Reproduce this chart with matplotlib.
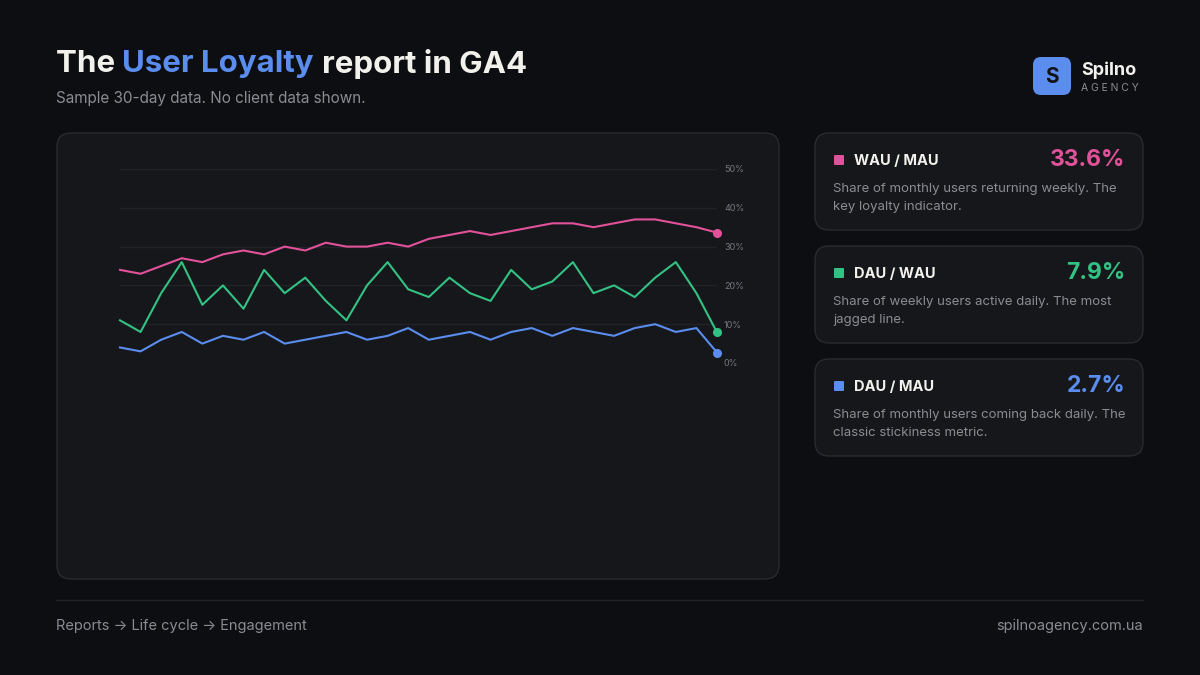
import matplotlib.pyplot as plt
from matplotlib.patches import FancyBboxPatch

# sample 30-day ratios (%)
days = list(range(1, 31))
wau_mau = [24, 23, 25, 27, 26, 28, 29, 28, 30, 29, 31, 30, 30, 31, 30,
           32, 33, 34, 33, 34, 35, 36, 36, 35, 36, 37, 37, 36, 35, 33.6]
dau_wau = [11, 8, 18, 26, 15, 20, 14, 24, 18, 22, 16, 11, 20, 26, 19,
           17, 22, 18, 16, 24, 19, 21, 26, 18, 20, 17, 22, 26, 18, 7.9]
dau_mau = [4, 3, 6, 8, 5, 7, 6, 8, 5, 6, 7, 8, 6, 7, 9,
           6, 7, 8, 6, 8, 9, 7, 9, 8, 7, 9, 10, 8, 9, 2.7]
y_ticks = [0, 10, 20, 30, 40, 50]

card_titles = ["WAU / MAU", "DAU / WAU", "DAU / MAU"]
card_values = ["33.6%", "7.9%", "2.7%"]
card_texts = [
    "Share of monthly users returning weekly. The\nkey loyalty indicator.",
    "Share of weekly users active daily. The most\njagged line.",
    "Share of monthly users coming back daily. The\nclassic stickiness metric.",
]

BG = "#0d0e11"
PANEL = "#16171b"
EDGE = "#2a2b30"
PINK = "#e2529b"
GREEN = "#33c283"
BLUE = "#5b8def"
WHITE = "#f2f1ec"
GREY = "#8b8c91"
series = [wau_mau, dau_wau, dau_mau]
colors = [PINK, GREEN, BLUE]

plt.rcParams["font.family"] = ["Inter", "DejaVu Sans"]

fig = plt.figure(figsize=(12, 6.75), dpi=100, facecolor=BG)

# full-size overlay in pixel coords for panels and text
bg = fig.add_axes([0, 0, 1, 1], zorder=0)
bg.set_xlim(0, 1200)
bg.set_ylim(675, 0)
bg.axis("off")


def box(x0, y0, x1, y1, r=14):
    bg.add_patch(FancyBboxPatch((x0 + r, y0 + r), x1 - x0 - 2 * r, y1 - y0 - 2 * r,
                                boxstyle=f"round,pad={r}", fc=PANEL, ec=EDGE, lw=1))


# title
t1 = bg.text(56, 64, "The ", color=WHITE, fontsize=22.5, fontweight="bold", va="center")
fig.canvas.draw()
r = fig.canvas.get_renderer()


def after(t, s, color):
    bb = t.get_window_extent(renderer=r)
    x = bg.transData.inverted().transform((bb.x1, bb.y0))[0]
    return bg.text(x, 64, s, color=color, fontsize=22.5, fontweight="bold", va="center")


t2 = after(t1, "User Loyalty ", BLUE)
t3 = after(t2, "report in GA4", WHITE)
bg.text(56, 99, "Sample 30-day data. No client data shown.", color=GREY, fontsize=11, va="center")

# logo
bg.add_patch(FancyBboxPatch((1041, 65), 22, 22, boxstyle="round,pad=8", fc=BLUE, ec="none"))
bg.text(1052, 77, "S", color="#111318", fontsize=15, fontweight="bold", ha="center", va="center")
bg.text(1081, 70, "Spilno", color=WHITE, fontsize=13, fontweight="bold", va="center")
bg.text(1081, 88, "A G E N C Y", color=GREY, fontsize=7.5, va="center")

# chart panel
box(57, 133, 779, 579)

# cards
for i in range(3):
    top = 133 + i * 113
    box(815, top, 1143, top + 97)
    bg.add_patch(FancyBboxPatch((835, top + 23), 8, 8, boxstyle="round,pad=1",
                                fc=colors[i], ec="none"))
    bg.text(854, top + 28, card_titles[i], color=WHITE, fontsize=10.5,
            fontweight="bold", va="center")
    bg.text(1125, top + 27, card_values[i], color=colors[i], fontsize=16.5,
            fontweight="bold", va="center", ha="right")
    bg.text(833, top + 65, card_texts[i], color=GREY, fontsize=9.5,
            va="center", linespacing=1.75)

# footer
bg.plot([56, 1143], [600, 600], color="#23242a", lw=1)
bg.text(56, 626, "Reports \u2192 Life cycle \u2192 Engagement", color=GREY, fontsize=10.5, va="center")
bg.text(1143, 626, "spilnoagency.com.ua", color=GREY, fontsize=10.5, va="center", ha="right")

# line chart
ax = fig.add_axes([120 / 1200, 1 - 363 / 675, (717 - 120) / 1200, (363 - 169) / 675], zorder=2)
ax.set_facecolor("none")
for vals, c in zip(series, colors):
    ax.plot(days, vals, color=c, lw=1.5, solid_joinstyle="round", clip_on=False)
    ax.plot(days[-1], vals[-1], "o", color=c, ms=5.5, clip_on=False)
ax.set_xlim(days[0], days[-1])
ax.set_ylim(0, 50)
ax.set_yticks(y_ticks)
ax.set_yticklabels([f"{v}%" for v in y_ticks])
ax.yaxis.tick_right()
ax.tick_params(axis="y", length=0, pad=5, labelsize=6.5, labelcolor="#76777c")
ax.set_xticks([])
ax.grid(axis="y", color="#222328", lw=1)
ax.set_axisbelow(True)
for s in ax.spines.values():
    s.set_visible(False)

fig.savefig("out.png", dpi=100, facecolor=BG)
